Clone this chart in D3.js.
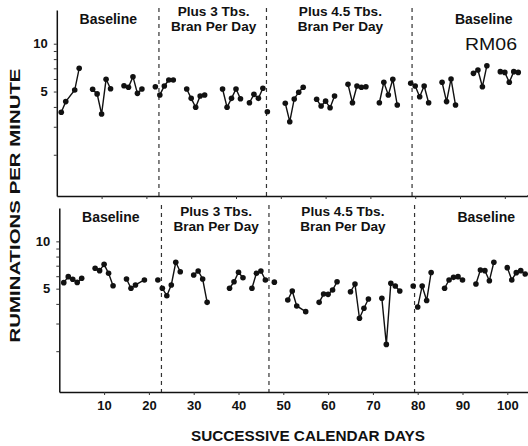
<!DOCTYPE html>
<html>
<head>
<meta charset="utf-8">
<script src="https://cdn.jsdelivr.net/npm/d3@7"></script>
<style>
  html, body { margin: 0; padding: 0; background: #fff; }
  svg { display: block; }
  text { font-family: "Liberation Sans", Arial, Helvetica, sans-serif; fill: #111; }
</style>
</head>
<body>
<svg id="chart" width="528" height="446"></svg>
<script>
// ---------- data ----------
const topDays = [1,2,4,5, 8,9,10,11,12, 15,16,17,18,19, 22,
  23,24,25,26, 29,30,31,32,33, 37,38,39,40,41, 43,44,45,46,
  47, 51,52,53,54,55, 58,59,60,61,62, 65,66,67,68,69, 72,73,74,75,76, 79,
  80,81,82,83, 86,87,88,89, 93,94,95,96, 99,100,101,102,103];
const topValues = [3.70,4.32,5.11,7.00, 5.17,4.83,3.61,5.97,5.21, 5.44,5.32,6.20,4.87,5.19, 5.36,
  4.76,5.42,5.91,5.91, 5.19,4.53,3.98,4.69,4.76, 5.19,3.98,4.53,5.19,4.50, 4.25,4.80,4.53,5.24,
  3.73, 4.22,3.23,4.49,4.95,5.32, 4.47,4.05,4.35,3.95,4.69, 5.55,4.25,5.42,5.32,5.36, 4.25,5.72,4.76,5.97,4.11, 5.64,
  5.42,4.64,5.42,4.25, 5.72,4.32,6.00,4.11, 6.51,6.83,5.36,7.27, 6.67,6.60,5.72,6.67,6.60];
const topRuns = [1,1,1,1, 2,2,2,2,2, 3,3,3,3,3, 4,
  5,5,5,5, 6,6,6,6,6, 7,7,7,7,7, 8,8,8,8,
  9, 10,10,10,10,10, 11,11,11,11,11, 12,12,12,12,12, 13,13,13,13,13, 14,
  15,15,15,15, 16,16,16,16, 17,17,17,17, 18,18,18,18,18];

const bottomDays = [1,2,3,4,5, 8,9,10,11,12, 15,16,17,19, 22,
  23,24,25,26,27, 30,31,32,33, 38,39,40,41, 43,44,45,46,
  48, 51,52,53,55, 58,59,60,61,62, 65,66,67,68,69, 72,73,74,75,76, 79,
  80,81,82,83, 86,87,88,89,90, 93,94,95,96,97, 100,101,102,103,104];
const bottomValues = [5.46,5.96,5.74,5.48,5.82, 6.74,6.51,7.14,6.26,5.22, 5.76,5.03,5.28,5.68, 5.68,
  5.03,4.51,5.28,7.36,6.41, 6.11,6.48,5.76,4.09, 5.03,5.53,6.36,5.87, 5.03,6.26,6.48,5.68,
  5.50, 4.23,4.83,3.88,3.57, 4.09,4.62,4.60,4.90,5.53, 4.78,5.35,3.24,3.75,4.30, 4.34,2.21,5.41,5.20,4.83, 5.20,
  3.82,5.20,4.20,6.34, 5.03,5.68,5.90,5.96,5.68, 5.35,6.57,6.51,5.62,7.36, 6.80,5.68,6.32,6.51,6.20];
const bottomRuns = [1,1,1,1,1, 2,2,2,2,2, 3,3,3,3, 4,
  5,5,5,5,5, 6,6,6,6, 7,7,7,7, 8,8,8,8,
  9, 10,10,10,10, 11,11,11,11,11, 12,12,12,12,12, 13,13,13,13,13, 14,
  15,15,15,15, 16,16,16,16,16, 17,17,17,17,17, 18,18,18,18,18];

const phaseBreaks = [22.8, 46.8, 79.3];
const phaseLabels = [["Baseline"], ["Plus 3 Tbs.", "Bran Per Day"], ["Plus 4.5 Tbs.", "Bran Per Day"], ["Baseline"]];
const phaseLabelDays = [11.5, 35, 63.3, 95.3];
const subjectLabel = "RM06";
const xTickValues = [10,20,30,40,50,60,70,80,90,100];
const yTickValues = [2,3,4,5,6,7,8,9,10];
const yLabelValues = [5, 10];
const yTitle = "RUMINATIONS PER MINUTE";
const xTitle = "SUCCESSIVE CALENDAR DAYS";

// ---------- drawing ----------
const svg = d3.select("#chart");
const W = 528;

const panels = [
  { days: topDays, values: topValues, runs: topRuns, x0: 56.8, yTop: 10, yBot: 196, lineTop: 8,
    labelY1: 24, labelY2a: 16, labelY2b: 30.5, showX: false, subject: true },
  { days: bottomDays, values: bottomValues, runs: bottomRuns, x0: 59.3, yTop: 208, yBot: 392, lineTop: 205,
    labelY1: 222, labelY2a: 216, labelY2b: 230.5, showX: true, subject: false }
];

panels.forEach(p => {
  const x = d3.scaleLinear().domain([0, 105]).range([p.x0, p.x0 + 105 * 4.48]);
  const y = d3.scaleLog().domain([1.1, 16.3]).range([p.yBot, p.yTop]);
  const g = svg.append("g");

  // phase lines
  g.selectAll("line.phase").data(phaseBreaks).join("line")
    .attr("x1", d => x(d)).attr("x2", d => x(d))
    .attr("y1", p.lineTop).attr("y2", p.yBot)
    .attr("stroke", "#333").attr("stroke-width", 1.2)
    .attr("stroke-dasharray", "4,4");

  // y axis
  const yAxis = d3.axisLeft(y).tickValues(yTickValues).tickSize(3).tickSizeOuter(0)
    .tickFormat(d => yLabelValues.includes(d) ? d : "");
  const ya = g.append("g").attr("transform", `translate(${p.x0},0)`).call(yAxis);
  ya.select(".domain").attr("stroke", "#111").attr("stroke-width", 1.5);
  ya.selectAll(".tick line").attr("stroke", "#333").attr("stroke-width", 1);
  ya.selectAll(".tick text").attr("x", -9).style("font-size", "13px").style("font-weight", "bold")
    .style("font-family", '"Liberation Sans", Arial, sans-serif').attr("fill", "#111");

  // x axis
  const xAxis = d3.axisBottom(x).tickValues(xTickValues).tickSize(3).tickSizeOuter(0)
    .tickFormat(p.showX ? d3.format("d") : () => "");
  const xa = g.append("g").attr("transform", `translate(0,${p.yBot})`).call(xAxis);
  xa.select(".domain").attr("stroke", "#111").attr("stroke-width", 1.5);
  xa.selectAll(".tick line").attr("stroke", "#333").attr("stroke-width", 1);
  xa.selectAll(".tick text").attr("y", 9).style("font-size", "13px").style("font-weight", "bold")
    .style("font-family", '"Liberation Sans", Arial, sans-serif').attr("fill", "#111");
  g.append("line").attr("x1", x(105)).attr("x2", W).attr("y1", p.yBot).attr("y2", p.yBot)
    .attr("stroke", "#111").attr("stroke-width", 1.5);

  // data
  const pts = p.days.map((d, i) => ({ d, v: p.values[i], r: p.runs[i] }));
  const runs = d3.groups(pts, e => e.r).map(e => e[1]);
  const line = d3.line().x(e => x(e.d)).y(e => y(e.v));
  g.selectAll("path.run").data(runs).join("path")
    .attr("d", line).attr("fill", "none").attr("stroke", "#111").attr("stroke-width", 1.4);
  g.selectAll("circle.pt").data(pts).join("circle")
    .attr("cx", e => x(e.d)).attr("cy", e => y(e.v)).attr("r", 2.8).attr("fill", "#111");

  // phase labels
  phaseLabels.forEach((lines, i) => {
    const cx = x(phaseLabelDays[i]);
    const ys = lines.length === 1 ? [p.labelY1] : [p.labelY2a, p.labelY2b];
    lines.forEach((t, j) => {
      g.append("text").attr("x", cx).attr("y", ys[j]).attr("text-anchor", "middle")
        .style("font-size", lines.length === 1 ? "14px" : "13.6px").style("font-weight", "bold").text(t);
    });
  });

  if (p.subject) {
    g.append("text").attr("x", 465).attr("y", 50).attr("textLength", 52).attr("lengthAdjust", "spacingAndGlyphs")
      .style("font-size", "16px").text(subjectLabel);
  }
});

// titles
svg.append("text").attr("transform", "translate(20,205.5) rotate(-90)").attr("text-anchor", "middle")
  .attr("textLength", 274).attr("lengthAdjust", "spacingAndGlyphs")
  .style("font-size", "14.5px").style("font-weight", "bold").text(yTitle);
svg.append("text").attr("x", 308).attr("y", 441).attr("text-anchor", "middle")
  .attr("textLength", 234).attr("lengthAdjust", "spacingAndGlyphs")
  .style("font-size", "15px").style("font-weight", "bold").text(xTitle);
</script>
</body>
</html>
